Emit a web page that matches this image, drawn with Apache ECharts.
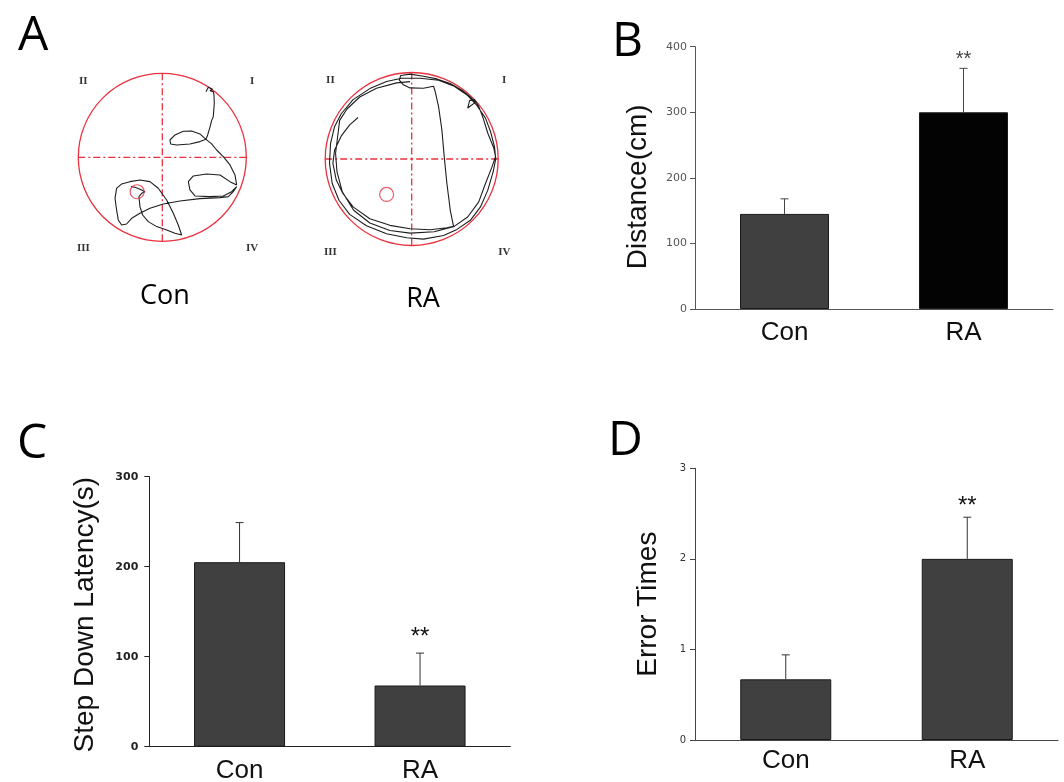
<!DOCTYPE html>
<html>
<head>
<meta charset="utf-8">
<script src="https://cdn.jsdelivr.net/npm/echarts@6/dist/echarts.min.js"></script>
<style>
html,body{margin:0;padding:0;background:#ffffff;}
#main{width:1064px;height:782px;}
</style>
</head>
<body>
<div id="main"></div>
<script>
// ---------- data ----------
const categories = ['Con', 'RA'];

const distanceMean = [145, 300];
const distanceErr = [23, 67];
const distanceSig = ['', '**'];
const distanceTicks = [0, 100, 200, 300, 400];

const latencyMean = [205, 68];
const latencyErr = [44, 36];
const latencySig = ['', '**'];
const latencyTicks = [0, 100, 200, 300];

const errorMean = [0.67, 2.0];
const errorErr = [0.27, 0.46];
const errorSig = ['', '**'];
const errorTicks = [0, 1, 2, 3];

// arena coordinates normalised to pool radius (centre = 0,0)
const quadrantLabels = ['I', 'II', 'III', 'IV'];
const quadrantPos = [[1.07, 0.91], [-0.94, 0.91], [-0.94, -1.08], [1.07, -1.08]];
const conPlatform = [-0.30, -0.41];
const raPlatform = [-0.29, -0.41];

const conTrack = [
  [0.52,0.78],[0.548,0.833],[0.599,0.81],[0.567,0.794],[0.607,0.782],[0.615,0.742],[0.619,0.643],
  [0.607,0.484],[0.587,0.437],[0.567,0.357],[0.54,0.266],[0.52,0.214],
  [0.448,0.187],[0.329,0.159],[0.171,0.147],[0.099,0.159],[0.091,0.206],[0.151,0.266],[0.25,0.31],
  [0.349,0.313],[0.448,0.278],[0.52,0.214],
  [0.587,0.159],[0.647,0.087],[0.726,0.008],[0.806,-0.091],[0.865,-0.21],[0.885,-0.329],
  [0.806,-0.29],[0.687,-0.21],[0.528,-0.198],[0.369,-0.222],[0.31,-0.29],[0.329,-0.389],[0.389,-0.46],
  [0.567,-0.468],[0.726,-0.46],[0.825,-0.409],[0.885,-0.349],
  [0.845,-0.409],[0.786,-0.468],[0.687,-0.48],[0.448,-0.492],[0.21,-0.52],[0.012,-0.556],
  [-0.147,-0.607],[-0.266,-0.667],[-0.365,-0.726],[-0.425,-0.794],[-0.484,-0.806],[-0.524,-0.746],
  [-0.544,-0.627],[-0.563,-0.488],[-0.544,-0.369],[-0.484,-0.317],[-0.385,-0.29],[-0.266,-0.27],
  [-0.147,-0.29],[-0.048,-0.369],[0.052,-0.508],[0.131,-0.667],[0.19,-0.806],[0.23,-0.925],
  [0.151,-0.905],[0.052,-0.865],[-0.067,-0.825],[-0.167,-0.766],[-0.234,-0.687],[-0.266,-0.587],
  [-0.278,-0.468],[-0.246,-0.429],[-0.206,-0.409],[-0.266,-0.381],[-0.325,-0.357],[-0.373,-0.349]
];

const raTrack = [
  [-0.62,0.48],[-0.717,0.395],[-0.814,0.267],[-0.891,0.105],[-0.911,-0.05],[-0.872,-0.244],
  [-0.795,-0.399],[-0.678,-0.554],[-0.484,-0.69],[-0.252,-0.767],[-0.019,-0.806],[0.213,-0.818],
  [0.407,-0.795],[0.484,-0.779],
  [0.446,-0.593],[0.407,-0.283],[0.376,0.027],[0.349,0.337],[0.31,0.609],[0.271,0.783],[0.252,0.841],
  [0.136,0.818],[-0.019,0.822],[-0.097,0.857],[-0.143,0.911],[-0.128,0.965],[-0.019,0.981],
  [0.136,0.957],[0.291,0.926],[0.446,0.872],[0.581,0.795],[0.678,0.717],[0.736,0.655],
  [0.647,0.589],[0.671,0.678],[0.725,0.686],[0.775,0.609],[0.826,0.473],[0.88,0.298],[0.95,0.124],
  [0.973,0.008],[0.942,-0.147],[0.88,-0.36],[0.795,-0.554],[0.678,-0.709],[0.523,-0.814],
  [0.368,-0.884],[0.136,-0.926],[-0.058,-0.911],[-0.291,-0.864],[-0.523,-0.771],[-0.717,-0.64],
  [-0.841,-0.477],[-0.919,-0.283],[-0.95,-0.05],[-0.938,0.182],[-0.891,0.376],[-0.814,0.523],
  [-0.678,0.686],[-0.484,0.814],[-0.291,0.895],[-0.116,0.934],[0.097,0.934],[0.31,0.911],
  [0.492,0.841],[0.64,0.74],[0.756,0.616],[0.853,0.473],[0.911,0.318],[0.957,0.143],[0.969,0.027],
  [0.926,-0.097],[0.853,-0.283],[0.775,-0.496],[0.647,-0.671],[0.492,-0.779],[0.26,-0.841],
  [-0.019,-0.857],[-0.252,-0.826],[-0.484,-0.74],[-0.671,-0.593],[-0.802,-0.38],[-0.864,-0.147],
  [-0.88,0.066],[-0.857,0.252],[-0.833,0.446],[-0.748,0.578],[-0.601,0.717],[-0.407,0.818],
  [-0.174,0.88],[-0.019,0.895]
];

// ---------- styling helpers ----------
const RED = '#e8323f';
const SANS = '"Liberation Sans", Arial, sans-serif';
const TICKFONT = '"DejaVu Sans", sans-serif';
const LABELFONT = '"Open Sans", sans-serif';

const chart = echarts.init(document.getElementById('main'), null, {renderer: 'canvas'});

function arenaAxes(idx) {
  return {
    x: {type: 'value', gridIndex: idx, min: -1.2, max: 1.2, show: false},
    y: {type: 'value', gridIndex: idx, min: -1.2, max: 1.2, show: false}
  };
}

function barYAxis(idx, ticks, name, opts) {
  return {
    type: 'value', gridIndex: idx,
    min: ticks[0], max: ticks[ticks.length - 1], interval: ticks[1] - ticks[0],
    name: name, nameLocation: 'middle', nameGap: opts.nameGap, nameMoveOverlap: false,
    nameTextStyle: {fontFamily: SANS, fontSize: 28, color: '#111', padding: opts.namePad || 0},
    axisLine: {show: true, lineStyle: {color: opts.axisColor, width: 1}},
    axisTick: {show: true, length: 5, lineStyle: {color: opts.axisColor, width: 1}},
    axisLabel: {fontFamily: TICKFONT, fontSize: opts.tickSize, fontWeight: opts.tickWeight || 'normal',
                color: opts.tickColor, margin: opts.tickMargin},
    splitLine: {show: false}
  };
}

function barXAxis(idx, opts) {
  return {
    type: 'category', gridIndex: idx, data: categories,
    axisLine: {show: true, lineStyle: {color: opts.axisColor, width: 1}},
    axisTick: {show: false},
    axisLabel: {fontFamily: SANS, fontSize: 26, color: '#111', margin: opts.labelMargin}
  };
}

function barSeries(idx, means, colors, width) {
  return {
    type: 'bar', xAxisIndex: idx, yAxisIndex: idx, barWidth: width,
    data: means.map((v, i) => ({value: v, itemStyle: {color: colors[i]}})),
    itemStyle: {borderColor: '#1a1a1a', borderWidth: 1},
    z: 2
  };
}

function errSeries(idx, means, errs, sigs, opts) {
  return {
    type: 'custom', xAxisIndex: idx, yAxisIndex: idx,
    data: means.map((m, i) => [i, m, m + errs[i]]),
    z: 4,
    renderItem: function (params, api) {
      const x = api.value(0);
      const lo = api.coord([x, api.value(1)]);
      const hi = api.coord([x, api.value(2)]);
      const cap = 4;
      const children = [
        {type: 'line', shape: {x1: lo[0], y1: lo[1], x2: hi[0], y2: hi[1]},
         style: {stroke: opts.errColor, lineWidth: 1}},
        {type: 'line', shape: {x1: hi[0] - cap, y1: hi[1], x2: hi[0] + cap, y2: hi[1]},
         style: {stroke: opts.errColor, lineWidth: 1}}
      ];
      const s = sigs[params.dataIndex];
      if (s) {
        children.push({
          type: 'text', x: hi[0], y: hi[1] - opts.sigGap,
          style: {text: s, fontFamily: SANS, fontSize: opts.sigSize, fill: opts.sigColor,
                  align: 'center', verticalAlign: 'middle'}
        });
      }
      return {type: 'group', children: children};
    }
  };
}

function trackSeries(idx, track) {
  return {
    type: 'line', xAxisIndex: idx, yAxisIndex: idx, data: track,
    showSymbol: false, smooth: false,
    lineStyle: {color: '#1e1e1e', width: 1.1}, z: 3
  };
}

function platformSeries(idx, pos) {
  return {
    type: 'scatter', xAxisIndex: idx, yAxisIndex: idx, data: [pos],
    symbol: 'circle', symbolSize: 14,
    itemStyle: {color: 'rgba(0,0,0,0)', borderColor: RED, borderWidth: 1.2}, z: 4
  };
}

function quadrantSeries(idx) {
  return {
    type: 'scatter', xAxisIndex: idx, yAxisIndex: idx,
    data: quadrantPos.map((p, i) => [p[0], p[1], quadrantLabels[i]]),
    symbolSize: 0,
    label: {show: true, position: 'inside', formatter: p => p.value[2],
            fontFamily: '"Liberation Serif", serif', fontWeight: 'bold', fontSize: 11, color: '#000'},
    z: 4
  };
}

const a0 = arenaAxes(0), a1 = arenaAxes(1);

const option = {
  animation: false,
  backgroundColor: '#ffffff',
  title: [
    {text: 'A', left: 13, top: 7, textStyle: {fontFamily: LABELFONT, fontSize: 48, fontWeight: 'normal', color: '#000'}},
    {text: 'B', left: 607, top: 13, textStyle: {fontFamily: LABELFONT, fontSize: 48, fontWeight: 'normal', color: '#000'}},
    {text: 'C', left: 12, top: 415, textStyle: {fontFamily: LABELFONT, fontSize: 48, fontWeight: 'normal', color: '#000'}},
    {text: 'D', left: 603, top: 412, textStyle: {fontFamily: LABELFONT, fontSize: 48, fontWeight: 'normal', color: '#000'}},
    {text: categories[0], left: 160, top: 278, textAlign: 'center', textStyle: {fontFamily: LABELFONT, fontSize: 27, fontWeight: 'normal', color: '#000'}},
    {text: categories[1], left: 418, top: 281, textAlign: 'center', textStyle: {fontFamily: LABELFONT, fontSize: 27, fontWeight: 'normal', color: '#000'}}
  ],
  polar: [
    {center: [162.3, 157.3], radius: 84},
    {center: [411.7, 159], radius: 86.5}
  ],
  angleAxis: [0, 1].map(i => ({
    polarIndex: i, type: 'value', min: 0, max: 360, interval: 90, startAngle: 90,
    axisLine: {show: true, lineStyle: {color: RED, width: 1.3}},
    axisTick: {show: false}, axisLabel: {show: false},
    splitLine: {show: true, lineStyle: {color: RED, width: 1.3, type: [7, 3, 2, 3]}}
  })),
  radiusAxis: [0, 1].map(i => ({
    polarIndex: i, type: 'value', min: 0, max: 1,
    axisLine: {show: false}, axisTick: {show: false}, axisLabel: {show: false}, splitLine: {show: false}
  })),
  grid: [
    {left: 61.5, top: 56.5, width: 201.6, height: 201.6, outerBoundsMode: 'none'},
    {left: 307.9, top: 55.2, width: 207.6, height: 207.6, outerBoundsMode: 'none'},
    {left: 695, top: 46.7, width: 358, height: 262.3, outerBoundsMode: 'none'},
    {left: 149.3, top: 476.7, width: 361, height: 270, outerBoundsMode: 'none'},
    {left: 695, top: 468.3, width: 363, height: 271.7, outerBoundsMode: 'none'}
  ],
  xAxis: [
    a0.x, a1.x,
    barXAxis(2, {axisColor: '#555', labelMargin: 11}),
    barXAxis(3, {axisColor: '#222', labelMargin: 11}),
    barXAxis(4, {axisColor: '#444', labelMargin: 8})
  ],
  yAxis: [
    a0.y, a1.y,
    barYAxis(2, distanceTicks, 'Distance(cm)', {nameGap: 43, namePad: [0, 18, 0, 0], axisColor: '#555', tickSize: 11, tickColor: '#555', tickMargin: 8}),
    barYAxis(3, latencyTicks, 'Step Down Latency(s)', {nameGap: 50, namePad: [0, 6, 0, 0], axisColor: '#222', tickSize: 11, tickWeight: 'bold', tickColor: '#222', tickMargin: 11}),
    barYAxis(4, errorTicks, 'Error Times', {nameGap: 33, axisColor: '#444', tickSize: 10, tickColor: '#333', tickMargin: 9})
  ],
  series: [
    trackSeries(0, conTrack),
    platformSeries(0, conPlatform),
    quadrantSeries(0),
    trackSeries(1, raTrack),
    platformSeries(1, raPlatform),
    quadrantSeries(1),
    barSeries(2, distanceMean, ['#404040', '#030303'], 89),
    errSeries(2, distanceMean, distanceErr, distanceSig, {errColor: '#444', sigGap: 9, sigSize: 20, sigColor: '#444'}),
    barSeries(3, latencyMean, ['#404040', '#404040'], 91),
    errSeries(3, latencyMean, latencyErr, latencySig, {errColor: '#333', sigGap: 16, sigSize: 24, sigColor: '#111'}),
    barSeries(4, errorMean, ['#404040', '#404040'], 91),
    errSeries(4, errorMean, errorErr, errorSig, {errColor: '#333', sigGap: 11, sigSize: 24, sigColor: '#111'})
  ]
};

chart.setOption(option);
</script>
</body>
</html>
